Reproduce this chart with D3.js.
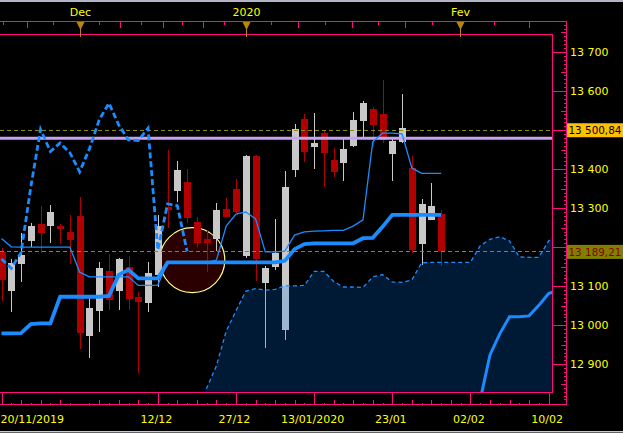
<!DOCTYPE html>
<html><head><meta charset="utf-8">
<script src="https://cdn.jsdelivr.net/npm/d3@7"></script>
<style>html,body{margin:0;padding:0;background:#000;overflow:hidden}text{font-family:"DejaVu Sans",sans-serif;font-size:11px}</style>
</head><body><svg id="c" width="623" height="433"></svg>
<script>
// ---- data ----
const opens  = [13188,13089,13158,13217,13259,13255,13254,13239,13280,12973,13037,13139,13088,13150,13073,13058,13129,13302,13344,13368,13265,13222,13221,13297,13348,13178,13434,13109,13148,12989,13398,13528,13457,13493,13423,13416,13459,13522,13554,13541,13439,13470,13402,13208,13270,13285];
const highs  = [13198,13170,13236,13261,13306,13308,13259,13283,13329,13070,13162,13183,13173,13178,13085,13161,13283,13449,13421,13400,13277,13244,13314,13325,13374,13436,13436,13152,13272,13395,13516,13541,13545,13499,13453,13479,13546,13575,13559,13628,13476,13592,13434,13323,13365,13295];
const lows   = [13062,13035,13112,13201,13186,13212,13208,13157,12939,12916,12983,13039,13039,13039,12877,13035,13099,13249,13316,13263,13200,13137,13191,13277,13287,13172,13114,12941,13142,12961,13381,13419,13401,13355,13379,13370,13457,13479,13457,13468,13370,13466,13186,13154,13270,13152];
const closes = [13116,13160,13180,13254,13237,13290,13247,13218,12980,13044,13147,13065,13170,13066,13060,13134,13253,13295,13398,13276,13212,13212,13295,13278,13291,13434,13170,13146,13186,13354,13502,13445,13467,13442,13393,13452,13526,13569,13513,13475,13473,13505,13193,13311,13306,13189.21];
const tenkan = [13222,13201,13200,13200,13200,13200,13200,13200,13136,13124,13124,13124,13124,13124,13102,13102,13103,13161,13161,13161,13161,13161,13167,13254,13285,13290,13273,13188,13188,13190,13231,13239,13241,13242,13243,13243,13254,13270,13470,13492,13492,13490,13403,13389,13389,13389];
const kijun  = [12979,12979,12980,13003,13005,13005,13073,13073,13073,13073,13073,13075,13129,13142,13120,13120,13120,13161,13161,13161,13161,13161,13161,13161,13161,13161,13161,13161,13161,13165,13195,13208,13210,13210,13210,13210,13210,13223,13224,13252,13283,13283,13283,13283,13283,13283];
const chikouShift = 26;
const cloudStart = 20;
const cloudTop = [12732,12839,12896,12985,13037,13087,13094,13090,13092,13101,13101,13102,13138,13138,13112,13098,13098,13097,13124,13130,13111,13110,13116,13160,13161,13161,13161,13161,13161,13204,13220,13227,13216,13175,13174,13174,13216,13239];
const spanAStart = 48;
const spanA = [12655,12809,12924,12978,13022,13022,13024,13051,13081,13090];
const levelLine = 13479;
const markedPrices = [13500.84, 13189.21];
const markedLabels = ["13 500,84", "13 189,21"];
const yLabelValues = [12900,13000,13100,13300,13400,13600,13700];
const dateTickIdx = [0,16,24,32,40,48,56];
const dateLabels = ["20/11/2019","12/12","27/12","13/01/2020","23/01","02/02","10/02"];
const monthIdx = [8,25,46.9];
const monthLabels = ["Dec","2020","Fev"];
const topTickIdx = [0.13,2.61,5.29,7.98,10.0,12.17,14.32,16.48,18.52,20.67,22.82,24.98,27.6,30.4,33.1,35.9,38.5,41.3,44.1,46.9,50.4,54.0];
const topTickLong = [0,1,0,0,0,1,0,1,0,1,0,0,0,1,0,1,0,1,0,0,0,1];
const circleAt = [19.53, 13167];

// ---- layout / style ----
const pink = "#ff0a80", yellow = "#ffff00", blue = "#1a8cff";
const plot = {l:0, t:34, r:552, b:392};
const axisX = 566, topAxisY = 21.5, botAxisY = 404.5;

const svg = d3.select("#c");
svg.append("rect").attr("width",623).attr("height",433).attr("fill","#000");

const x = d3.scaleLinear().domain([0,56]).range([1.5,548.6]);
const y = d3.scaleLinear().domain([12900,13700]).range([364.3,52]);

svg.append("defs").append("clipPath").attr("id","clip").append("rect")
  .attr("x",plot.l).attr("y",plot.t).attr("width",plot.r-plot.l).attr("height",plot.b-plot.t);
const gp = svg.append("g").attr("clip-path","url(#clip)");

// annotation circle
gp.append("circle").attr("cx",x(circleAt[0])).attr("cy",y(circleAt[1])).attr("r",32.5)
  .attr("fill","#2a0000").attr("stroke","#ffff88").attr("stroke-width",1.2);

// candles
const idx = d3.range(closes.length);
const col = i => closes[i] >= opens[i] ? "#c8c8c8" : "#b00000";
gp.append("g").selectAll("line").data(idx).join("line")
  .attr("x1",i=>Math.round(x(i))+0.5).attr("x2",i=>Math.round(x(i))+0.5)
  .attr("y1",i=>y(highs[i])).attr("y2",i=>y(lows[i]))
  .attr("stroke",col).attr("stroke-width",1).attr("shape-rendering","crispEdges");
gp.append("g").selectAll("rect").data(idx).join("rect")
  .attr("x",i=>Math.round(x(i))-3).attr("width",7)
  .attr("y",i=>Math.min(y(opens[i]),y(closes[i])))
  .attr("height",i=>Math.max(1,Math.abs(y(opens[i])-y(closes[i]))))
  .attr("fill",col).attr("shape-rendering","crispEdges");

// cloud
const cloudData = cloudTop.map((v,k)=>[cloudStart+k,v]);
gp.append("path").datum(cloudData)
  .attr("d",d3.area().x(d=>x(d[0])).y0(plot.b).y1(d=>y(d[1])))
  .attr("fill","rgba(0,120,240,0.22)");

// horizontal level lines
gp.append("line").attr("x1",plot.l).attr("x2",plot.r).attr("y1",y(levelLine)).attr("y2",y(levelLine))
  .attr("stroke","#c8a2f2").attr("stroke-width",3);
gp.selectAll(".mk").data(markedPrices).join("line")
  .attr("x1",plot.l).attr("x2",plot.r).attr("y1",d=>Math.round(y(d))+0.5).attr("y2",d=>Math.round(y(d))+0.5)
  .attr("stroke","#8a8a10").attr("stroke-width",1).attr("stroke-dasharray","4,3");

const line = d3.line().x(d=>x(d[0])).y(d=>y(d[1]));
gp.append("path").datum(cloudData).attr("d",line).attr("fill","none")
  .attr("stroke",blue).attr("stroke-width",1.3).attr("stroke-dasharray","4,3");
gp.append("path").datum(spanA.map((v,k)=>[spanAStart+k,v])).attr("d",line).attr("fill","none")
  .attr("stroke",blue).attr("stroke-width",3);
gp.append("path").datum(tenkan.map((v,i)=>[i,v])).attr("d",line).attr("fill","none")
  .attr("stroke",blue).attr("stroke-width",1.3);
gp.append("path").datum(kijun.map((v,i)=>[i,v])).attr("d",line).attr("fill","none")
  .attr("stroke",blue).attr("stroke-width",3.8);
gp.append("path").datum(closes.slice(chikouShift).map((v,k)=>[k,v])).attr("d",line).attr("fill","none")
  .attr("stroke",blue).attr("stroke-width",2.8).attr("stroke-dasharray","6,3");

// frame lines
const seg = (x1,y1,x2,y2)=>svg.append("line").attr("x1",x1).attr("y1",y1).attr("x2",x2).attr("y2",y2)
  .attr("stroke",pink).attr("stroke-width",1).attr("shape-rendering","crispEdges");
seg(0,plot.t+0.5,plot.r+0.5,plot.t+0.5);
seg(plot.r+0.5,plot.t,plot.r+0.5,plot.b+1);
seg(0,plot.b+0.5,plot.r+0.5,plot.b+0.5);
seg(0,topAxisY,axisX+0.5,topAxisY);
seg(axisX+0.5,topAxisY,axisX+0.5,botAxisY+0.5);
seg(0,botAxisY,axisX+0.5,botAxisY);

// right axis ticks
const rVals = d3.range(1281,1378).map(k=>k*10);
const gR = svg.append("g").attr("transform",`translate(${axisX+0.5},0)`)
  .call(d3.axisLeft(y).tickValues(rVals).tickFormat("").tickSizeOuter(0));
gR.select(".domain").remove();
gR.selectAll(".tick line").attr("stroke",pink).attr("shape-rendering","crispEdges")
  .attr("x2",d=> d%100===0 ? -14.5 : d%50===0 ? -6 : -3);
svg.append("g").selectAll("text").data(yLabelValues).join("text")
  .attr("x",570).attr("y",d=>y(d)+4).attr("fill",yellow).text(d=>d3.format(",")(d).replace(","," "));
// marked price labels
const mk = svg.append("g").selectAll("g").data(markedPrices).join("g");
mk.append("rect").attr("x",567).attr("width",60).attr("y",d=>y(d)-6.5).attr("height",14)
  .attr("fill",(d,i)=> i===0 ? "#ffc000" : "#808000");
mk.append("text").attr("x",568.5).attr("y",d=>y(d)+4.5).style("font-size","10.4px")
  .attr("fill",(d,i)=> i===0 ? "#000" : "#8b0000").text((d,i)=>markedLabels[i]);

// bottom axis
const gB = svg.append("g").attr("transform",`translate(0,${plot.b+0.5})`)
  .call(d3.axisBottom(x).tickValues(dateTickIdx).tickFormat("").tickSize(botAxisY-plot.b-0.5).tickSizeOuter(0));
gB.select(".domain").remove();
gB.selectAll(".tick line").attr("stroke",pink).attr("shape-rendering","crispEdges");
const minorIdx = d3.range(0,57).filter(i=>i%8!==0);
const gBm = svg.append("g").attr("transform",`translate(0,${botAxisY})`)
  .call(d3.axisTop(x).tickValues(minorIdx).tickFormat("").tickSizeOuter(0));
gBm.select(".domain").remove();
gBm.selectAll(".tick line").attr("stroke",pink).attr("shape-rendering","crispEdges")
  .attr("y2",d=> d%2===0 ? -5 : -2);
svg.append("g").selectAll("text").data(dateTickIdx).join("text")
  .attr("x",(d,i)=> i===0 ? 0.5 : x(d)-1.5).attr("y",422.5)
  .attr("text-anchor",(d,i)=> i===0 ? "start" : "middle")
  .attr("fill",yellow).text((d,i)=>dateLabels[i]);

// top axis
const gT = svg.append("g").attr("transform",`translate(0,${topAxisY})`)
  .call(d3.axisBottom(x).tickValues(topTickIdx).tickFormat("").tickSizeOuter(0));
gT.select(".domain").remove();
gT.selectAll(".tick line").attr("stroke",pink).attr("shape-rendering","crispEdges")
  .attr("y2",(d,i)=> topTickLong[i] ? 6 : 3.5);
const mg = svg.append("g").selectAll("g").data(monthIdx).join("g")
  .attr("transform",d=>`translate(${Math.round(x(d))+0.5},0)`);
mg.append("line").attr("y1",22).attr("y2",37).attr("stroke","#c08020").attr("stroke-width",1);
mg.append("path").attr("d","M-4,22L4,22L0,30Z").attr("fill","#b8860b");
mg.append("text").attr("y",16).attr("text-anchor","middle").attr("fill",yellow).text((d,i)=>monthLabels[i]);

// window edges
svg.append("rect").attr("x",0).attr("y",0).attr("width",623).attr("height",2).attr("fill","#b4b4c6");
svg.append("rect").attr("x",0).attr("y",431).attr("width",623).attr("height",1.5).attr("fill","#c8c8d0");
</script></body></html>
